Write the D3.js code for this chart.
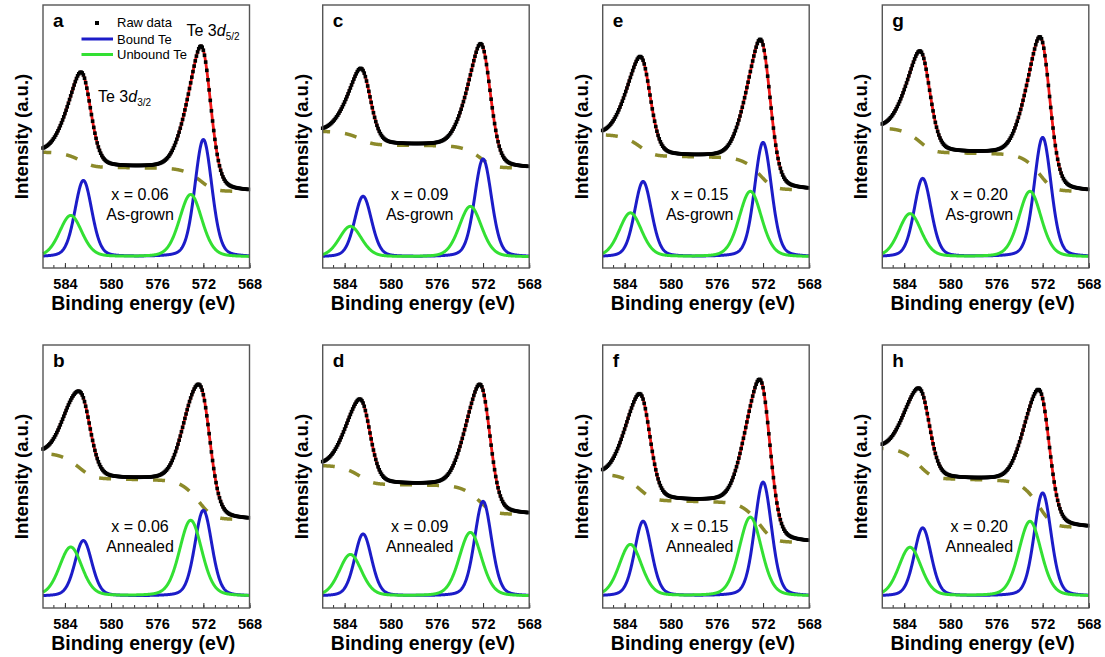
<!DOCTYPE html>
<html>
<head>
<meta charset="utf-8">
<script src="https://cdn.jsdelivr.net/npm/d3@7"></script>
<style>
  body { margin: 0; background: #fff; }
  text { font-family: Arial, "Liberation Sans", sans-serif; fill: #000; }
</style>
</head>
<body>
<svg id="fig" width="1105" height="657"></svg>
<script>
// grid order: top row a c e g, bottom row b d f h
const panelLetters = ["a", "c", "e", "g", "b", "d", "f", "h"];
const compositions = ["x = 0.06", "x = 0.09", "x = 0.15", "x = 0.20", "x = 0.06", "x = 0.09", "x = 0.15", "x = 0.20"];
const treatments = ["As-grown", "As-grown", "As-grown", "As-grown", "Annealed", "Annealed", "Annealed", "Annealed"];

// fitted components, [3d5/2, 3d3/2]
const boundCentres = [572.0, 582.4];
const unboundCentres = [573.1, 583.5];
const boundFwhm = 1.75;
const unboundFwhm = 2.3;
const boundHeights = [[44.7, 29.1], [37.3, 23.1], [43.6, 28.7], [45.5, 29.9], [32.7, 21.2], [36.1, 23.7], [43.4, 28.5], [39.3, 26.0]];
const unboundHeights = [[23.8, 15.8], [19.3, 11.7], [25.0, 16.8], [25.0, 16.5], [28.9, 18.7], [24.3, 15.9], [30.1, 19.7], [28.5, 18.6]];
const componentBase = [4.1, 4.1, 4.1, 4.1, 4.4, 4.4, 4.4, 4.4];

// raw spectrum: background at the high / low binding-energy ends, top of the 3d5/2 peak
const bgHigh = [44.0, 51.9, 50.6, 53.1, 58.7, 54.1, 50.7, 60.7];
const bgLow = [29.1, 38.0, 29.7, 29.1, 33.6, 35.6, 24.9, 30.6];
const rawTop = [84.3, 85.2, 86.8, 87.7, 84.7, 84.9, 86.7, 82.6];

const energyTicks = [584, 580, 576, 572, 568];
const minorTicks = d3.range(568, 586, 1);
const eMin = 568, eMax = 585.9;
const bgEnd = 569.5;
const rawStep = 0.1;

const colLeft = [43, 322.7, 602.7, 882.3];
const rowTop = [5, 345];
const pw = 206.5, ph = 263;

const svg = d3.select("#fig");

function voigt(e, c, h, w) {
  const t = (e - c) / w;
  return h * (0.25 / (1 + 4 * t * t) + 0.75 * Math.exp(-4 * Math.LN2 * t * t));
}

panelLetters.forEach((letter, i) => {
  const col = i % 4, row = Math.floor(i / 4);
  const g = svg.append("g").attr("transform", `translate(${colLeft[col]},${rowTop[row]})`);

  const x = d3.scaleLinear().domain([eMax, eMin]).range([0, pw]);
  const y = d3.scaleLinear().domain([0, 100]).range([ph, 0]);

  const bound = e => voigt(e, boundCentres[0], boundHeights[i][0], boundFwhm) + voigt(e, boundCentres[1], boundHeights[i][1], boundFwhm);
  const unbound = e => voigt(e, unboundCentres[0], unboundHeights[i][0], unboundFwhm) + voigt(e, unboundCentres[1], unboundHeights[i][1], unboundFwhm);
  const comp = e => bound(e) + unbound(e);

  // Shirley type background on a fine grid from the low-energy end
  const fine = d3.range(0, Math.round((eMax - eMin) / 0.01) + 1).map(k => eMin + k * 0.01);
  const cum = [0];
  for (let k = 1; k < fine.length; k++) cum.push(cum[k - 1] + (comp(fine[k]) + comp(fine[k - 1])) * 0.005);
  const total = cum[cum.length - 1];
  const bg = e => {
    const k = Math.max(0, Math.min(fine.length - 1, Math.round((e - eMin) / 0.01)));
    return bgLow[i] + (bgHigh[i] - bgLow[i]) * cum[k] / total;
  };
  let ePk = eMin, cPk = 0;
  fine.forEach(e => { if (e < 577 && comp(e) > cPk) { cPk = comp(e); ePk = e; } });
  const s = (rawTop[i] - bg(ePk)) / cPk;
  const fit = e => bg(e) + s * comp(e);

  const fineDraw = fine.filter((e, k) => k % 2 === 0);
  const bgPts = fineDraw.filter(e => e >= bgEnd);

  const line = f => d3.line().x(e => x(e)).y(e => y(f(e)));

  g.append("path").datum(bgPts)
    .attr("d", line(bg))
    .attr("fill", "none").attr("stroke", "#8c8a2a").attr("stroke-width", 3.5)
    .attr("stroke-dasharray", "12,15");

  g.append("path").datum(fineDraw)
    .attr("d", line(e => componentBase[i] + bound(e)))
    .attr("fill", "none").attr("stroke", "#1c1cc8").attr("stroke-width", 3);

  g.append("path").datum(fineDraw)
    .attr("d", line(e => componentBase[i] + unbound(e)))
    .attr("fill", "none").attr("stroke", "#33e033").attr("stroke-width", 3);

  g.append("path").datum(fineDraw)
    .attr("d", line(fit))
    .attr("fill", "none").attr("stroke", "#f01818").attr("stroke-width", 2.8);

  const raw = d3.range(0, Math.floor((eMax - eMin) / rawStep) + 1).map(k => eMax - k * rawStep);
  g.append("g").selectAll("rect").data(raw).join("rect")
    .attr("x", e => x(e) - 1.8).attr("y", e => y(fit(e)) - 1.8)
    .attr("width", 3.6).attr("height", 3.6).attr("fill", "#000");

  // axis ticks pointing inward
  g.append("g").attr("transform", `translate(0,${ph})`)
    .call(d3.axisBottom(x).tickValues(minorTicks).tickSize(-3).tickFormat(""))
    .call(a => a.select(".domain").remove())
    .call(a => a.selectAll("line").attr("stroke", "#333"));
  g.append("g").attr("transform", `translate(0,${ph})`)
    .call(d3.axisBottom(x).tickValues(energyTicks).tickSize(-5).tickPadding(11).tickFormat(d3.format("d")))
    .call(a => a.select(".domain").remove())
    .call(a => a.selectAll("line").attr("stroke", "#333"))
    .call(a => a.selectAll("text").attr("font-size", 14.5).attr("font-weight", "bold")
      .attr("font-family", "Arial, 'Liberation Sans', sans-serif").attr("fill", "#000"));

  g.append("rect").attr("width", pw).attr("height", ph)
    .attr("fill", "none").attr("stroke", "#555").attr("stroke-width", 1.4);

  g.append("text").attr("x", 10).attr("y", 22)
    .attr("font-size", 19).attr("font-weight", "bold").text(letter);

  g.append("text").attr("x", pw / 2 - 3).attr("y", ph + 42).attr("text-anchor", "middle")
    .attr("font-size", 19.5).attr("font-weight", "bold").text("Binding energy (eV)");
  g.append("text").attr("transform", `translate(-15,${ph / 2}) rotate(-90)`).attr("text-anchor", "middle")
    .attr("font-size", 18.5).attr("font-weight", "bold").text("Intensity (a.u.)");

  const ty = row === 0 ? 195 : 187;
  g.append("text").attr("x", 97).attr("y", ty).attr("text-anchor", "middle")
    .attr("font-size", 16).text(compositions[i]);
  g.append("text").attr("x", 97).attr("y", ty + 20).attr("text-anchor", "middle")
    .attr("font-size", 16).text(treatments[i]);

  if (i === 0) {
    g.append("rect").attr("x", 52).attr("y", 16).attr("width", 4).attr("height", 4).attr("fill", "#000");
    g.append("text").attr("x", 74).attr("y", 22).attr("font-size", 13).text("Raw data");
    g.append("line").attr("x1", 38.5).attr("x2", 70).attr("y1", 34).attr("y2", 34)
      .attr("stroke", "#1c1cc8").attr("stroke-width", 3);
    g.append("text").attr("x", 74).attr("y", 38.5).attr("font-size", 13).text("Bound Te");
    g.append("line").attr("x1", 38.5).attr("x2", 70).attr("y1", 49.5).attr("y2", 49.5)
      .attr("stroke", "#33e033").attr("stroke-width", 3);
    g.append("text").attr("x", 74).attr("y", 54).attr("font-size", 13).text("Unbound Te");

    const lab52 = g.append("text").attr("x", 143.5).attr("y", 31).attr("font-size", 16);
    lab52.append("tspan").text("Te 3");
    lab52.append("tspan").attr("font-style", "italic").text("d");
    lab52.append("tspan").attr("font-size", 10).attr("dy", 4).text("5/2");
    const lab32 = g.append("text").attr("x", 55).attr("y", 96.5).attr("font-size", 16);
    lab32.append("tspan").text("Te 3");
    lab32.append("tspan").attr("font-style", "italic").text("d");
    lab32.append("tspan").attr("font-size", 10).attr("dy", 4).text("3/2");
  }
});
</script>
</body>
</html>
